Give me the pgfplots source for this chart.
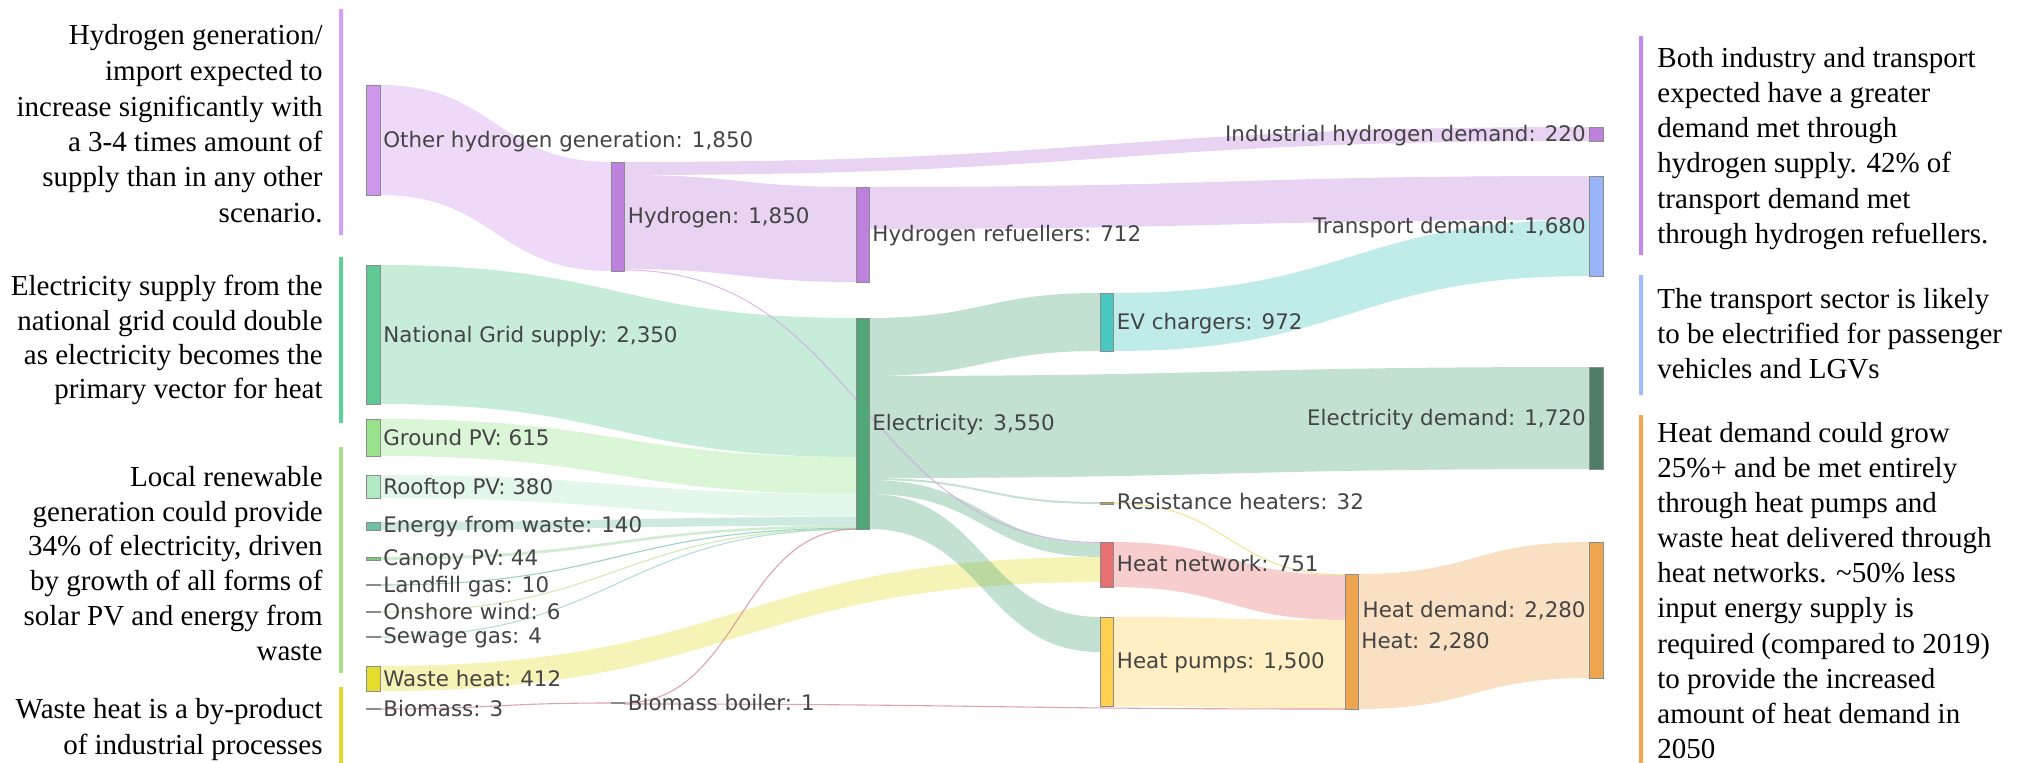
\documentclass[border=0pt]{standalone}
\usepackage{fontspec}
\setmainfont{Liberation Serif}
\newfontfamily\labfont{DejaVu Sans}
\usepackage{pgfplots}
\pgfplotsset{compat=1.18}

\definecolor{hgen}{HTML}{CE96EA}
\definecolor{hyd}{HTML}{BE80DD}
\definecolor{ngrid}{HTML}{5EC994}
\definecolor{gpv}{HTML}{98E28C}
\definecolor{rpv}{HTML}{B0EAC5}
\definecolor{efw}{HTML}{6FBFA5}
\definecolor{cpv}{HTML}{7CC87C}
\definecolor{wheat}{HTML}{E2DC2C}
\definecolor{elec}{HTML}{50A878}
\definecolor{ev}{HTML}{48C8C0}
\definecolor{resh}{HTML}{C8A040}
\definecolor{hnet}{HTML}{E87070}
\definecolor{hpump}{HTML}{FFD050}
\definecolor{heat}{HTML}{EDA550}
\definecolor{trans}{HTML}{9AB4F8}
\definecolor{edem}{HTML}{4E7E68}
\definecolor{txt}{HTML}{444444}
\definecolor{biom}{HTML}{C86878}
\definecolor{tiny}{HTML}{888888}
\definecolor{lfg}{HTML}{78C4B4}
\definecolor{onw}{HTML}{C4E498}
\definecolor{swg}{HTML}{98D4CC}
\definecolor{resl}{HTML}{F2D878}
\definecolor{barLA}{HTML}{D4A2F2}
\definecolor{barLB}{HTML}{60CE97}
\definecolor{barLC}{HTML}{A8DE8E}
\definecolor{barLD}{HTML}{E0D830}
\definecolor{barRA}{HTML}{C48AE4}
\definecolor{barRB}{HTML}{A0BCF8}
\definecolor{barRC}{HTML}{F0A850}

% node bar: x0 x1 ytop ybot colour
\newcommand{\snode}[5]{\addplot[fill=#5, draw=black!45, line width=0.3bp, forget plot] coordinates {(#1,#3) (#2,#3) (#2,#4) (#1,#4) (#1,#3)};}
% plain bar (annotation rule)
\newcommand{\sbar}[5]{\addplot[fill=#5, draw=none, forget plot] coordinates {(#1,#3) (#2,#3) (#2,#4) (#1,#4) (#1,#3)};}
% link band: x0 x1 xmid y0top y0bot y1top y1bot colour
\newcommand{\flow}[8]{\fill[#8, fill opacity=0.35] (axis cs:#1,#4) .. controls (axis cs:#3,#4) and (axis cs:#3,#6) .. (axis cs:#2,#6) -- (axis cs:#2,#7) .. controls (axis cs:#3,#7) and (axis cs:#3,#5) .. (axis cs:#1,#5) -- cycle;}
% thin link: x0 x1 xmid y0 y1 colour
\newcommand{\fline}[6]{\draw[#6, line width=0.55bp, draw opacity=0.75] (axis cs:#1,#4) .. controls (axis cs:#3,#4) and (axis cs:#3,#5) .. (axis cs:#2,#5);}
\newcommand{\lab}[3]{\node[anchor=base west, inner sep=0, text=txt, font=\labfont\fontsize{10.7bp}{12bp}\selectfont] at (axis cs:#1,#2) {#3};}
\newcommand{\labr}[3]{\node[anchor=base east, inner sep=0, text=txt, font=\labfont\fontsize{10.7bp}{12bp}\selectfont] at (axis cs:#1,#2) {#3};}
\newcommand{\notel}[2]{\node[anchor=base east, inner sep=0, font=\fontsize{14.5bp}{17bp}\selectfont] at (axis cs:323,#1) {#2};}
\newcommand{\noter}[2]{\node[anchor=base west, inner sep=0, font=\fontsize{14.5bp}{17bp}\selectfont] at (axis cs:1657,#1) {#2};}

\begin{document}
\begin{tikzpicture}
\begin{axis}[
  width=1012bp, height=381.5bp, scale only axis,
  xmin=0, xmax=2024, ymin=0, ymax=763, y dir=reverse,
  hide axis, clip=false]

% ---- links ----
\flow{380}{611}{495.5}{85}{195}{162}{271}{hgen}
\flow{624}{1589}{1106.5}{162}{175}{127}{141}{hyd}
\flow{624}{856}{740}{175}{269}{187}{282}{hyd}
\flow{869}{1589}{1229}{187}{229}{176}{220}{hyd}
\flow{380}{856}{618}{265}{404}{318}{457}{ngrid}
\flow{380}{856}{618}{419}{456}{457}{494}{gpv}
\flow{380}{856}{618}{475}{498}{494}{517}{rpv}
\flow{380}{856}{618}{522}{530}{517}{525.5}{efw}
\flow{380}{856}{618}{557}{560}{525.5}{528}{cpv}
\fline{380}{856}{618}{585}{528.3}{lfg}
\fline{380}{856}{618}{612}{528.8}{onw}
\fline{380}{856}{618}{637}{529.2}{swg}
\flow{380}{1100}{740}{666}{691}{557}{582}{wheat}
\flow{869}{1100}{984.5}{318}{376}{293}{351}{elec}
\flow{869}{1589}{1229}{376}{478}{367}{469}{elec}
\flow{869}{1100}{984.5}{478}{480}{502}{504}{elec}
\flow{869}{1100}{984.5}{480}{494}{543}{557}{elec}
\flow{869}{1100}{984.5}{494}{529}{617}{652}{elec}
\flow{1113}{1589}{1351}{293}{351}{220}{276}{ev}
\flow{1113}{1345}{1229}{542}{587}{575}{620}{hnet}
\flow{1113}{1345}{1229}{617}{706}{620}{709}{hpump}
\flow{1358}{1589}{1473.5}{574}{709}{542}{678}{heat}
\fline{624}{1100}{862}{270}{542.5}{hyd!70}
\fline{1113}{1345}{1229}{503}{575}{resl}
\fline{380}{611}{495.5}{709}{703}{biom!80}
\fline{624}{856}{740}{703}{529}{biom!80}
\fline{624}{1345}{984.5}{704}{709}{biom!80}

% ---- nodes ----
\snode{366}{380}{85}{195}{hgen}
\snode{366}{380}{265}{404}{ngrid}
\snode{366}{380}{419}{456}{gpv}
\snode{366}{380}{475}{498}{rpv}
\snode{366}{380}{522}{530}{efw}
\snode{366}{380}{557}{560}{cpv}
\snode{366}{380}{584.5}{585.5}{tiny}
\snode{366}{380}{611.5}{612.5}{tiny}
\snode{366}{380}{636.5}{637.5}{tiny}
\snode{366}{380}{666}{691}{wheat}
\snode{366}{380}{708.5}{709.5}{tiny}
\snode{611}{624}{162}{271}{hyd}
\snode{611}{624}{702.5}{703.5}{tiny}
\snode{856}{869}{187}{282}{hyd}
\snode{856}{869}{318}{529}{elec}
\snode{1100}{1113}{293}{351}{ev}
\snode{1100}{1113}{502}{504}{resh}
\snode{1100}{1113}{542}{587}{hnet}
\snode{1100}{1113}{617}{706}{hpump}
\snode{1345}{1358}{574}{709}{heat}
\snode{1589}{1603}{127}{141}{hyd}
\snode{1589}{1603}{176}{276}{trans}
\snode{1589}{1603}{367}{469}{edem}
\snode{1589}{1603}{542}{678}{heat}

% ---- node labels ----
\lab{383}{147.3}{Other hydrogen generation: 1,850}
\lab{383}{342}{National Grid supply: 2,350}
\lab{383}{445}{Ground PV: 615}
\lab{383}{494}{Rooftop PV: 380}
\lab{383}{532}{Energy from waste: 140}
\lab{383}{565.3}{Canopy PV: 44}
\lab{383}{592.3}{Landfill gas: 10}
\lab{383}{619.3}{Onshore wind: 6}
\lab{383}{643.5}{Sewage gas: 4}
\lab{383}{686}{Waste heat: 412}
\lab{383}{716.5}{Biomass: 3}
\lab{627.5}{223.5}{Hydrogen: 1,850}
\lab{627.5}{710}{Biomass boiler: 1}
\lab{872}{241}{Hydrogen refuellers: 712}
\lab{872}{430.8}{Electricity: 3,550}
\lab{1116.5}{329}{EV chargers: 972}
\lab{1116.5}{509.5}{Resistance heaters: 32}
\lab{1116.5}{571.5}{Heat network: 751}
\lab{1116.5}{668.5}{Heat pumps: 1,500}
\lab{1361}{648.5}{Heat: 2,280}
\labr{1586}{141.6}{Industrial hydrogen demand: 220}
\labr{1586}{233.3}{Transport demand: 1,680}
\labr{1586}{425}{Electricity demand: 1,720}
\labr{1586}{617.3}{Heat demand: 2,280}

% ---- annotation rules ----
\sbar{339}{343}{9}{235}{barLA}
\sbar{339}{343}{257}{423}{barLB}
\sbar{339}{343}{447}{673}{barLC}
\sbar{339}{343}{687}{763}{barLD}
\sbar{1639}{1643}{36}{255}{barRA}
\sbar{1639}{1643}{275}{395}{barRB}
\sbar{1639}{1643}{415}{763}{barRC}

% ---- left notes ----
\notel{45}{Hydrogen generation/}
\notel{80.5}{import expected to}
\notel{116}{increase significantly with}
\notel{151}{a 3-4 times amount of}
\notel{186.5}{supply than in any other}
\notel{222}{scenario.}
\notel{295}{Electricity supply from the}
\notel{330}{national grid could double}
\notel{364}{as electricity becomes the}
\notel{398.5}{primary vector for heat}
\notel{486}{Local renewable}
\notel{521}{generation could provide}
\notel{555.5}{34\% of electricity, driven}
\notel{590.5}{by growth of all forms of}
\notel{625}{solar PV and energy from}
\notel{660}{waste}
\notel{718.5}{Waste heat is a by-product}
\notel{754}{of industrial processes}

% ---- right notes ----
\noter{67}{Both industry and transport}
\noter{102}{expected have a greater}
\noter{137.5}{demand met through}
\noter{172.5}{hydrogen supply. 42\% of}
\noter{208}{transport demand met}
\noter{243}{through hydrogen refuellers.}
\noter{308}{The transport sector is likely}
\noter{343}{to be electrified for passenger}
\noter{378}{vehicles and LGVs}
\noter{442}{Heat demand could grow}
\noter{477}{25\%+ and be met entirely}
\noter{512}{through heat pumps and}
\noter{547}{waste heat delivered through}
\noter{582}{heat networks. \textasciitilde50\% less}
\noter{617.5}{input energy supply is}
\noter{653}{required (compared to 2019)}
\noter{688}{to provide the increased}
\noter{723}{amount of heat demand in}
\noter{758}{2050}
\end{axis}
\pgfresetboundingbox
\path (current axis.south west) rectangle (current axis.north east);
\end{tikzpicture}
\end{document}
